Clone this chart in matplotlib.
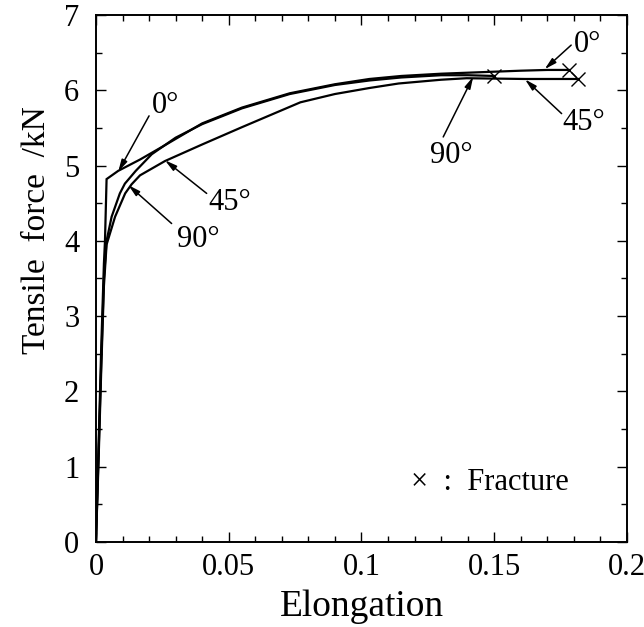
import numpy as np
import matplotlib
matplotlib.use("Agg")
import matplotlib.pyplot as plt
from matplotlib.ticker import MultipleLocator, FixedLocator, FixedFormatter

# tensile curves (elongation, force in kN)
elong_0 = [0, 0.0010, 0.0020, 0.0030, 0.0034, 0.0040, 0.0084, 0.0166, 0.025, 0.040,
           0.055, 0.073, 0.090, 0.103, 0.115, 0.130, 0.145, 0.160, 0.170, 0.178]
force_0 = [0, 1.3, 2.6, 3.7, 4.0, 4.82, 4.93, 5.08, 5.25, 5.56,
           5.77, 5.96, 6.08, 6.15, 6.19, 6.22, 6.24, 6.26, 6.27, 6.27]

elong_90 = [0, 0.001, 0.002, 0.003, 0.004, 0.0059, 0.009, 0.0109, 0.015, 0.021,
            0.030, 0.040, 0.055, 0.073, 0.090, 0.103, 0.115, 0.130, 0.140, 0.150]
force_90 = [0, 1.2, 2.4, 3.5, 4.0, 4.32, 4.63, 4.76, 4.93, 5.15,
            5.37, 5.55, 5.76, 5.95, 6.07, 6.13, 6.17, 6.20, 6.20, 6.19]

elong_45 = [0, 0.001, 0.002, 0.003, 0.004, 0.0072, 0.011, 0.0134, 0.0166, 0.026,
            0.040, 0.055, 0.077, 0.090, 0.103, 0.114, 0.130, 0.1396, 0.1616, 0.1817]
force_45 = [0, 1.1, 2.3, 3.4, 3.95, 4.32, 4.63, 4.75, 4.87, 5.06,
            5.28, 5.51, 5.84, 5.95, 6.03, 6.09, 6.14, 6.16, 6.15, 6.15]

x_ticks = [0, 0.05, 0.1, 0.15, 0.2]
x_tick_labels = ["0", "0.05", "0.1", "0.15", "0.2"]
y_ticks = [0, 1, 2, 3, 4, 5, 6, 7]

plt.rcParams["font.family"] = ["Liberation Serif", "DejaVu Serif"]

fig = plt.figure(figsize=(6.44, 6.27), dpi=100)
ax = fig.add_axes([0.149, 0.1356, 0.8245, 0.8405])

for ex, fy in [(elong_0, force_0), (elong_90, force_90), (elong_45, force_45)]:
    ax.plot(ex, fy, color="k", lw=1.6, solid_joinstyle="miter")
    ax.plot(ex[-1], fy[-1], marker="x", color="k", ms=10.5, mew=1.0)

ax.set_xlim(0, 0.2)
ax.set_ylim(0, 7)
ax.xaxis.set_major_locator(FixedLocator(x_ticks))
ax.xaxis.set_major_formatter(FixedFormatter(x_tick_labels))
ax.xaxis.set_minor_locator(MultipleLocator(0.01))
ax.yaxis.set_major_locator(FixedLocator(y_ticks))
ax.yaxis.set_minor_locator(MultipleLocator(0.5))
ax.tick_params(which="both", direction="in", top=True, right=True, width=1.0)
ax.tick_params(which="major", length=7, labelsize=22)
ax.tick_params(axis="x", which="major", pad=8)
ax.tick_params(axis="y", which="major", pad=12)
ax.tick_params(which="minor", length=4.5)
for s in ax.spines.values():
    s.set_linewidth(1.4)

ax.set_xlabel("Elongation", fontsize=27, labelpad=5)
ax.set_ylabel("Tensile  force  /kN", fontsize=24)
ax.yaxis.set_label_coords(-0.082, 0.592)

arrow = dict(arrowstyle="-|>,head_length=0.7,head_width=0.18", color="k", lw=1.1,
             shrinkA=0, shrinkB=0)
notes = [
    ("0°", (0.0211, 5.70), (0.0200, 5.66), (0.0084, 4.92)),
    ("45°", (0.0422, 4.41), (0.0417, 4.63), (0.0260, 5.07)),
    ("90°", (0.0304, 3.92), (0.0285, 4.23), (0.0122, 4.74)),
    ("0°", (0.1800, 6.51), (0.1790, 6.60), (0.1690, 6.28)),
    ("45°", (0.1758, 5.47), (0.1754, 5.69), (0.1616, 6.145)),
    ("90°", (0.1258, 5.03), (0.1308, 5.38), (0.1421, 6.18)),
]
for txt, pos, tail, tip in notes:
    ax.annotate("", xy=tip, xytext=tail, arrowprops=arrow)
    ax.text(pos[0], pos[1], txt, fontsize=22, ha="left", va="baseline")

ax.text(0.1186, 0.69, "×  :  Fracture", fontsize=22, ha="left", va="baseline")

fig.savefig("out.png", dpi=100)
